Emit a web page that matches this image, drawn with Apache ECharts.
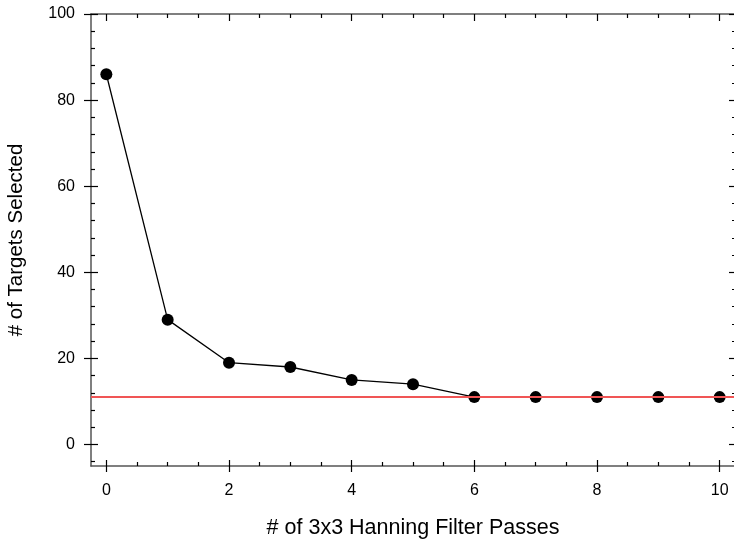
<!DOCTYPE html>
<html><head><meta charset="utf-8">
<script src="https://cdn.jsdelivr.net/npm/echarts@6/dist/echarts.min.js"></script>
<style>html,body{margin:0;padding:0;background:#fff}#c{width:734px;height:543px}</style>
</head><body><div id="c"></div>
<script>
var passes = [0,1,2,3,4,5,6,7,8,9,10];
var targets = [86,29,19,18,15,14,11,11,11,11,11];
var thresholdValue = 11;
var xMajor = [0,2,4,6,8,10];
var xMinor = [0.5,1,1.5,2.5,3,3.5,4.5,5,5.5,6.5,7,7.5,8.5,9,9.5];
var yMajor = [0,20,40,60,80,100];
var yMinor = [-4,4,8,12,16,24,28,32,36,44,48,52,56,64,68,72,76,84,88,92,96];
var xTitle = '# of 3x3 Hanning Filter Passes';
var yTitle = '# of Targets Selected';

var FONT = 'Liberation Sans, Arial, sans-serif';
var chart = echarts.init(document.getElementById('c'));
var XMIN=-0.25, XMAX=10.25, YMIN=-5, YMAX=100;
function xa(o){return Object.assign({type:'value',min:XMIN,max:XMAX,splitLine:{show:false},axisLine:{show:false,onZero:false},axisLabel:{show:false},axisTick:{show:false}},o);}
function ya(o){return Object.assign({type:'value',min:YMIN,max:YMAX,splitLine:{show:false},axisLine:{show:false,onZero:false},axisLabel:{show:false},axisTick:{show:false}},o);}
var lineStyle = {color:'#555',width:1.5};
var tickStyle = {color:'#000',width:1.2};
chart.setOption({
  animation:false,
  grid:{left:91,top:14,right:-1,bottom:77,containLabel:false,outerBoundsMode:'none'},
  xAxis:[
    xa({position:'bottom',axisLine:{show:true,onZero:false,lineStyle:lineStyle},
        axisTick:{show:true,inside:true,length:6,customValues:xMajor,lineStyle:tickStyle},
        axisLabel:{show:true,customValues:xMajor,margin:17,fontSize:16,color:'#000',fontFamily:FONT},
        name:xTitle,nameLocation:'middle',nameGap:51,nameTextStyle:{fontSize:21.5,color:'#000',fontFamily:FONT}}),
    xa({position:'bottom',axisTick:{show:true,inside:false,length:6,customValues:xMajor,lineStyle:tickStyle}}),
    xa({position:'bottom',axisTick:{show:true,inside:true,length:4,customValues:xMinor,lineStyle:tickStyle}}),
    xa({position:'top',axisLine:{show:true,onZero:false,lineStyle:lineStyle},
        axisTick:{show:true,inside:true,length:7,customValues:xMajor,lineStyle:tickStyle}}),
    xa({position:'top',axisTick:{show:true,inside:true,length:4,customValues:xMinor,lineStyle:tickStyle}})
  ],
  yAxis:[
    ya({position:'left',axisLine:{show:true,onZero:false,lineStyle:lineStyle},
        axisTick:{show:true,inside:true,length:7,customValues:yMajor,lineStyle:tickStyle},
        axisLabel:{show:true,customValues:yMajor,margin:16,fontSize:16,color:'#000',fontFamily:FONT},
        name:yTitle,nameLocation:'middle',nameGap:64,nameTextStyle:{fontSize:20.5,color:'#000',fontFamily:FONT}}),
    ya({position:'left',axisTick:{show:true,inside:false,length:7,customValues:yMajor,lineStyle:tickStyle}}),
    ya({position:'left',axisTick:{show:true,inside:true,length:4,customValues:yMinor,lineStyle:tickStyle}}),
    ya({position:'right',axisTick:{show:true,inside:true,length:6,customValues:yMajor,lineStyle:tickStyle}}),
    ya({position:'right',axisTick:{show:true,inside:true,length:3,customValues:yMinor,lineStyle:tickStyle}})
  ],
  series:[
    {type:'line',xAxisIndex:0,yAxisIndex:0,data:passes.map(function(p,i){return [p,targets[i]];}),
     symbol:'circle',symbolSize:12,itemStyle:{color:'#000'},lineStyle:{color:'#000',width:1.3},z:3,
     markLine:{silent:true,symbol:'none',label:{show:false},lineStyle:{color:'#f05555',width:2,type:'solid'},
       data:[{yAxis:thresholdValue}]}}
  ]
});
</script></body></html>
